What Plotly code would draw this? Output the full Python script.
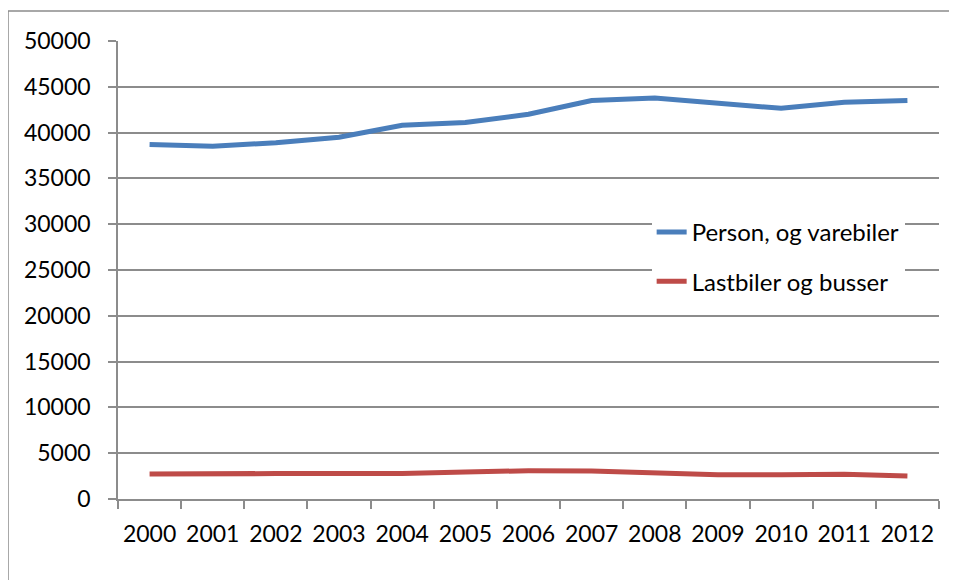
import plotly.graph_objects as go

years = ["2000", "2001", "2002", "2003", "2004", "2005", "2006",
         "2007", "2008", "2009", "2010", "2011", "2012"]
person_varebiler = [38700, 38500, 38900, 39500, 40800, 41100, 42000,
                    43500, 43780, 43150, 42650, 43300, 43500]
lastbiler_busser = [2720, 2790, 2780, 2780, 2790, 2960, 3080,
                    3050, 2870, 2660, 2660, 2690, 2510]

series_names = ["Person, og varebiler", "Lastbiler og busser"]
colors = ["#4A7EBB", "#BE4B48"]

FONT = "Lato"
GRID = "#8C8C8C"

fig = go.Figure()
for name, vals, col, grp in zip(series_names, [person_varebiler, lastbiler_busser], colors, ["a", "b"]):
    fig.add_trace(go.Scatter(
        x=years, y=vals, name=name, mode="lines",
        line=dict(color=col, width=5),
        legendgroup=grp,
    ))

fig.update_layout(
    width=949, height=572,
    margin=dict(l=110, r=18, t=33, b=81),
    paper_bgcolor="white", plot_bgcolor="white",
    font=dict(family=FONT, size=23, color="black"),
    showlegend=True,
    legend=dict(
        x=0.65, y=0.631, xanchor="left", yanchor="top",
        bgcolor="white", borderwidth=0,
        font=dict(family=FONT, size=24, color="black"),
        traceorder="grouped", tracegroupgap=15,
    ),
    xaxis=dict(
        type="category", range=[-0.5, 12.5],
        tickson="boundaries", ticks="outside", ticklen=8, tickwidth=1.5,
        tickcolor=GRID, showline=True, linecolor=GRID, linewidth=1.5,
        showgrid=False, zeroline=False, ticklabelstandoff=14,
        tickfont=dict(family=FONT, size=23, color="black"),
    ),
    yaxis=dict(
        range=[0, 50000], dtick=5000, tick0=0,
        ticks="outside", ticklen=8, tickwidth=1.5, tickcolor=GRID,
        showline=True, linecolor=GRID, linewidth=1.5,
        showgrid=True, gridcolor=GRID, gridwidth=1.5,
        zeroline=False, ticklabelstandoff=13,
        tickfont=dict(family=FONT, size=23, color="black"),
        tickformat="d",
    ),
)

# Outer chart border (only top and left edges are visible in the window)
fig.add_shape(type="rect", xref="paper", yref="paper",
              x0=(0 - 110) / 821, x1=1.2, y0=-0.5, y1=(491 - 3) / 458,
              line=dict(color=GRID, width=1.5), fillcolor="rgba(0,0,0,0)",
              layer="below")

fig.write_html("out.html")
